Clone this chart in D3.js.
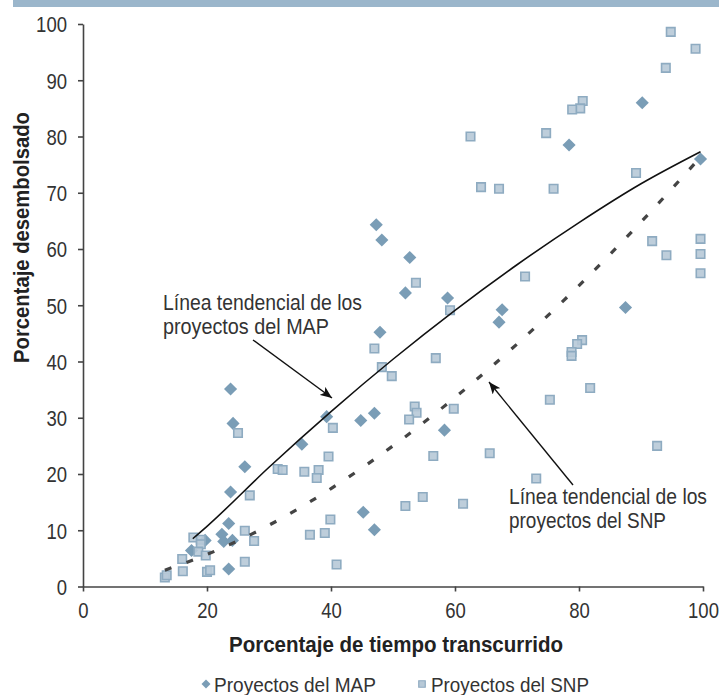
<!DOCTYPE html>
<html>
<head>
<meta charset="utf-8">
<script src="https://cdn.jsdelivr.net/npm/d3@7"></script>
<style>
  body { margin: 0; background: #fff; }
  svg text { font-family: "Liberation Sans", Arial, sans-serif; }
</style>
</head>
<body>
<svg width="719" height="695"></svg>
<script>
// MAP projects (diamonds): % time elapsed, % disbursed
var mapX = [99.6, 90.2, 78.4, 67.6, 67.1, 87.5, 52.7, 52.0, 58.8, 47.9, 47.3, 48.2, 39.3, 44.8, 47.0,
            58.3, 35.3, 45.2, 47.0, 23.8, 24.2, 26.1, 23.8, 23.5, 22.4, 22.7, 24.1, 19.7, 17.5, 23.5];
var mapY = [76.0, 86.0, 78.5, 49.2, 47.0, 49.6, 58.5, 52.2, 51.3, 45.2, 64.3, 61.6, 30.2, 29.5, 30.8,
            27.8, 25.3, 13.2, 10.1, 35.1, 29.0, 21.3, 16.8, 11.2, 9.3, 8.0, 8.2, 8.2, 6.4, 3.1];

// SNP projects (squares)
var snpX = [94.8, 98.8, 94.0, 80.6, 80.2, 78.9, 62.5, 74.7, 89.2, 64.2, 67.1, 75.9, 71.3, 80.5, 79.7,
            78.8, 78.8, 81.8, 75.3, 92.6, 94.1, 99.6, 99.6, 99.6, 91.8, 65.6, 73.1, 61.3, 53.7, 59.2,
            47.0, 48.2, 49.8, 56.9, 40.3, 53.5, 53.8, 52.6, 59.8, 39.6, 31.4, 32.2, 35.7, 38.0, 37.7,
            56.5, 52.0, 54.8, 39.9, 36.6, 39.0, 40.9, 25.0, 26.9, 26.1, 27.6, 17.8, 19.0, 19.0, 18.6,
            19.8, 16.0, 16.1, 20.0, 20.5, 26.1, 13.2, 13.5];
var snpY = [98.6, 95.6, 92.2, 86.3, 85.0, 84.8, 80.0, 80.6, 73.5, 71.0, 70.7, 70.7, 55.1, 43.8, 43.1,
            41.7, 41.0, 35.3, 33.2, 25.0, 58.9, 59.1, 55.7, 61.8, 61.4, 23.7, 19.2, 14.7, 54.0, 49.1,
            42.3, 39.0, 37.4, 40.6, 28.2, 32.0, 30.9, 29.7, 31.6, 23.1, 20.9, 20.7, 20.4, 20.7, 19.3,
            23.2, 14.3, 15.9, 11.9, 9.2, 9.5, 3.9, 27.3, 16.2, 9.9, 8.1, 8.7, 8.3, 7.5, 6.2,
            5.5, 4.9, 2.7, 2.6, 2.9, 4.4, 1.6, 2.0];

// trend lines
var mapTrendX = [17.7, 20, 30, 40, 50, 60, 70, 80, 90, 99.6];
var mapTrendY = [8.5, 10.7, 21.2, 31.1, 40.4, 49.1, 57.2, 64.7, 71.6, 77.3];
var snpTrendX = [13.2, 20, 30, 40, 50, 60, 70, 80, 90, 99.5];
var snpTrendY = [2.9, 5.7, 10.9, 17.4, 25.0, 33.6, 43.1, 53.5, 64.8, 76.2];

var ticks = [0, 10, 20, 30, 40, 50, 60, 70, 80, 90, 100];
var xTicks = [0, 20, 40, 60, 80, 100];

var svg = d3.select("svg");

var x = d3.scaleLinear().domain([0, 100]).range([83, 703]);
var y = d3.scaleLinear().domain([0, 100]).range([586.5, 24]);

// squeeze text to the condensed look of the original
function squeeze(sel, w) {
    sel.attr("textLength", w).attr("lengthAdjust", "spacingAndGlyphs");
}

// band across the top
svg.append("rect")
    .attr("x", 13).attr("y", 0)
    .attr("width", 706).attr("height", 7)
    .attr("fill", "#9bb6cb");

var yAxis = svg.append("g")
    .attr("transform", "translate(83,0)")
    .call(d3.axisLeft(y).tickValues(ticks).tickSize(5).tickSizeOuter(0).tickPadding(11));

var xAxis = svg.append("g")
    .attr("transform", "translate(0,586.5)")
    .call(d3.axisBottom(x).tickValues(xTicks).tickSize(5).tickSizeOuter(0).tickPadding(11));

[yAxis, xAxis].forEach(function(g) {
    g.selectAll("path, line").attr("stroke", "#444").attr("stroke-width", 1.6);
    g.selectAll("text")
        .attr("fill", "#333")
        .style("font-size", "22px")
        .each(function() {
            var t = d3.select(this);
            squeeze(t, 10.3 * t.text().length);
        });
});
yAxis.selectAll("text").attr("dy", "0.36em");

var yTitle = svg.append("text")
    .attr("transform", "translate(29,237.5) rotate(-90)")
    .attr("text-anchor", "middle")
    .attr("font-weight", "bold")
    .attr("fill", "#222")
    .style("font-size", "22px")
    .text("Porcentaje desembolsado");
squeeze(yTitle, 251);

var xTitle = svg.append("text")
    .attr("x", 396).attr("y", 652)
    .attr("text-anchor", "middle")
    .attr("font-weight", "bold")
    .attr("fill", "#222")
    .style("font-size", "22px")
    .text("Porcentaje de tiempo transcurrido");
squeeze(xTitle, 334);

// markers
var mapPts = mapX.map(function(d, i) { return [d, mapY[i]]; });
var snpPts = snpX.map(function(d, i) { return [d, snpY[i]]; });

svg.append("g")
    .selectAll("path")
    .data(mapPts)
    .enter().append("path")
    .attr("d", d3.symbol().type(d3.symbolSquare).size(86))
    .attr("transform", function(d) { return "translate(" + x(d[0]) + "," + y(d[1]) + ") rotate(45)"; })
    .attr("fill", "#7a9db6");

svg.append("g")
    .selectAll("path")
    .data(snpPts)
    .enter().append("path")
    .attr("d", d3.symbol().type(d3.symbolSquare).size(72))
    .attr("transform", function(d) { return "translate(" + x(d[0]) + "," + y(d[1]) + ")"; })
    .attr("fill", "#b7c9d7")
    .attr("fill-opacity", 0.9)
    .attr("stroke", "#8eabc1")
    .attr("stroke-width", 1.6);

// trend lines
var line = d3.line()
    .x(function(d) { return x(d[0]); })
    .y(function(d) { return y(d[1]); })
    .curve(d3.curveMonotoneX);

svg.append("path")
    .datum(mapTrendX.map(function(d, i) { return [d, mapTrendY[i]]; }))
    .attr("d", line)
    .attr("fill", "none")
    .attr("stroke", "#111")
    .attr("stroke-width", 1.6);

svg.append("path")
    .datum(snpTrendX.map(function(d, i) { return [d, snpTrendY[i]]; }))
    .attr("d", line)
    .attr("fill", "none")
    .attr("stroke", "#444")
    .attr("stroke-width", 3.2)
    .attr("stroke-dasharray", "7,16");

// annotations
svg.append("defs").append("marker")
    .attr("id", "arrow")
    .attr("viewBox", "0 0 12 10")
    .attr("refX", 12).attr("refY", 5)
    .attr("markerWidth", 12).attr("markerHeight", 10)
    .attr("markerUnits", "userSpaceOnUse")
    .attr("orient", "auto")
    .append("path")
    .attr("d", "M0,0L12,5L0,10L3,5Z")
    .attr("fill", "#111");

svg.append("line")
    .attr("x1", 253).attr("y1", 340).attr("x2", 332).attr("y2", 398)
    .attr("stroke", "#111").attr("stroke-width", 1.4)
    .attr("marker-end", "url(#arrow)");

svg.append("line")
    .attr("x1", 573).attr("y1", 485).attr("x2", 489).attr("y2", 382)
    .attr("stroke", "#111").attr("stroke-width", 1.4)
    .attr("marker-end", "url(#arrow)");

var notes = [
    { x: 163, y: 310, lines: ["Línea tendencial de los", "proyectos del MAP"], widths: [199, 166] },
    { x: 509, y: 504, lines: ["Línea tendencial de los", "proyectos del SNP"], widths: [198, 157] }
];
notes.forEach(function(n) {
    n.lines.forEach(function(s, i) {
        var t = svg.append("text")
            .attr("x", n.x).attr("y", n.y + i * 24)
            .attr("fill", "#333")
            .style("font-size", "22px")
            .text(s);
        squeeze(t, n.widths[i]);
    });
});

// legend
var legend = svg.append("g");
legend.append("path")
    .attr("d", d3.symbol().type(d3.symbolSquare).size(40))
    .attr("transform", "translate(206,684) rotate(45)")
    .attr("fill", "#7a9db6");
var l1 = legend.append("text")
    .attr("x", 214).attr("y", 692)
    .attr("fill", "#333").style("font-size", "21px")
    .text("Proyectos del MAP");
squeeze(l1, 162);
legend.append("path")
    .attr("d", d3.symbol().type(d3.symbolSquare).size(42))
    .attr("transform", "translate(422,684)")
    .attr("fill", "#b7c9d7")
    .attr("stroke", "#8eabc1")
    .attr("stroke-width", 1.2);
var l2 = legend.append("text")
    .attr("x", 431).attr("y", 692)
    .attr("fill", "#333").style("font-size", "21px")
    .text("Proyectos del SNP");
squeeze(l2, 158);
</script>
</body>
</html>
